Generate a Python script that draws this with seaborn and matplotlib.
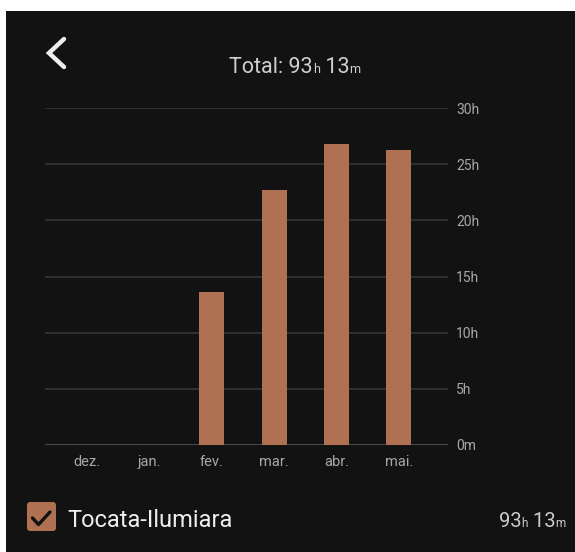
import matplotlib
matplotlib.use("Agg")
import matplotlib.pyplot as plt
import seaborn as sns
from matplotlib.patches import Rectangle, FancyBboxPatch
from matplotlib.lines import Line2D
from matplotlib.transforms import IdentityTransform

# dados
meses = ["dez.", "jan.", "fev.", "mar.", "abr.", "mai."]
horas = [0, 0, 13.65, 22.7, 26.8, 26.3]
ticks_y = [0, 5, 10, 15, 20, 25, 30]
rotulos_y = ["0m", "5h", "10h", "15h", "20h", "25h", "30h"]
total_partes = ["Total: 93", "h", " 13", "m"]
serie = "Tocata-Ilumiara"
serie_partes = ["93", "h", " 13", "m"]

FUNDO = "#121212"
COR_BARRA = "#b07052"
COR_GRADE = "#363636"
COR_TICK = "#a8a8a8"

W, H = 575, 552


def texto_misto(fig, x, y, partes, tamanhos, cor, ha="center"):
    r = fig.canvas.get_renderer()
    objs = [fig.text(0, y, p, fontsize=s, color=cor, va="baseline",
                     transform=IdentityTransform())
            for p, s in zip(partes, tamanhos)]
    larguras = [t.get_window_extent(r).width for t in objs]
    soma = sum(larguras)
    x0 = x - soma / 2 if ha == "center" else (x - soma if ha == "right" else x)
    for t, w in zip(objs, larguras):
        t.set_x(x0)
        x0 += w


def main():
    sns.set_style("dark")
    plt.rcParams["font.family"] = ["Roboto", "DejaVu Sans"]

    fig = plt.figure(figsize=(W / 100, H / 100), dpi=100, facecolor="white")
    fig.add_artist(Rectangle((6, 0), W - 6, H - 11, transform=IdentityTransform(),
                             facecolor=FUNDO, edgecolor="none", zorder=-10))

    ax = fig.add_axes([45 / W, 107 / H, 403 / W, 337 / H])
    ax.set_facecolor(FUNDO)

    sns.barplot(x=meses, y=horas, color=COR_BARRA, width=0.4, saturation=1,
                edgecolor="none", linewidth=0, ax=ax, zorder=3)

    ax.set_ylim(0, 30)
    ax.set_xlim(-0.68, 5.79)
    ax.set_yticks(ticks_y)
    ax.set_yticklabels(rotulos_y)
    ax.yaxis.tick_right()
    ax.grid(axis="y", color=COR_GRADE, linewidth=1.2, zorder=0)
    ax.grid(axis="x", visible=False)
    ax.axhline(0, color="#4a4a4a", linewidth=1.4, zorder=2)
    for s in ax.spines.values():
        s.set_visible(False)
    ax.tick_params(axis="y", length=0, pad=6, labelsize=10, labelcolor=COR_TICK)
    ax.tick_params(axis="x", length=0, pad=7, labelsize=10.5, labelcolor=COR_TICK)
    ax.set_xlabel("")
    ax.set_ylabel("")

    # seta de voltar
    pts_x = [64, 49, 64]
    pts_y = [H - 39, H - 53, H - 67]
    fig.add_artist(Line2D(pts_x, pts_y, transform=IdentityTransform(), color="#eeeeee",
                          linewidth=3.2, solid_capstyle="round", solid_joinstyle="miter"))

    # título
    texto_misto(fig, 295, H - 73, total_partes, [15.5, 9, 15.5, 9], "#cfcfcf")

    # legenda
    fig.add_artist(FancyBboxPatch((27, 21), 29, 29, boxstyle="round,pad=0,rounding_size=3",
                                  transform=IdentityTransform(), facecolor=COR_BARRA,
                                  edgecolor="none"))
    fig.add_artist(Line2D([32.5, 38.5, 50], [H - 518, H - 524.5, H - 512],
                          transform=IdentityTransform(), color=FUNDO, linewidth=2.4,
                          solid_capstyle="round"))
    fig.text(67, 25, serie, fontsize=17, color="#eeeeee", va="baseline",
             transform=IdentityTransform())
    texto_misto(fig, 566, 25, serie_partes, [14.5, 8.5, 14.5, 8.5], "#cccccc", ha="right")

    fig.savefig("out.png", dpi=100, facecolor=fig.get_facecolor())


if __name__ == "__main__":
    main()
